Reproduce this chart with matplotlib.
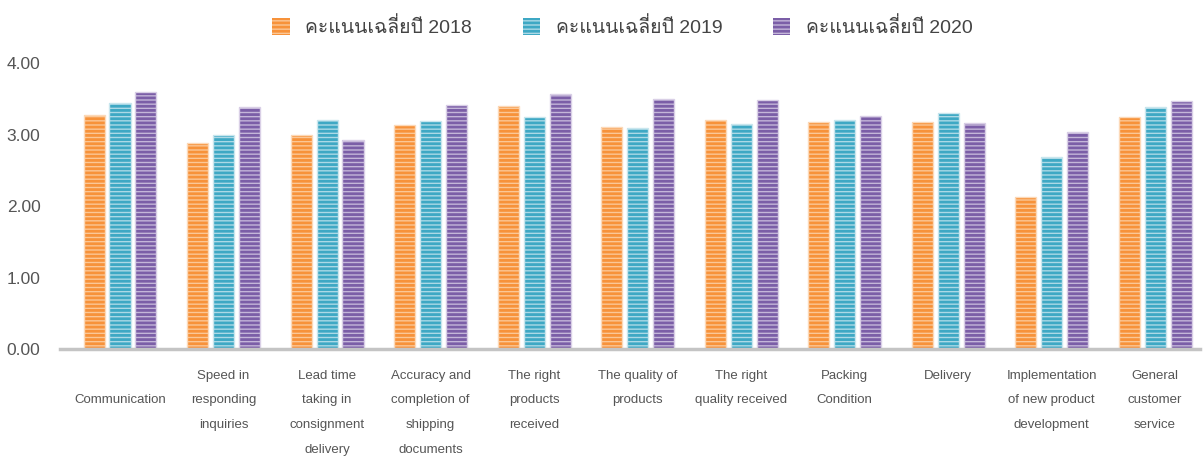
import numpy as np
import matplotlib
matplotlib.use("Agg")
import matplotlib.pyplot as plt
from matplotlib import font_manager
from matplotlib.ft2font import FT2Font

# dati
categories = [
    "\nCommunication",
    "Speed in\nresponding\ninquiries",
    "Lead time\ntaking in\nconsignment\ndelivery",
    "Accuracy and\ncompletion of\nshipping\ndocuments",
    "The right\nproducts\nreceived",
    "The quality of\nproducts",
    "The right\nquality received",
    "Packing\nCondition",
    "Delivery",
    "Implementation\nof new product\ndevelopment",
    "General\ncustomer\nservice",
]
series_names = ["คะแนนเฉลี่ยปี 2018", "คะแนนเฉลี่ยปี 2019", "คะแนนเฉลี่ยปี 2020"]
score_2018 = [3.28, 2.88, 2.99, 3.13, 3.40, 3.10, 3.20, 3.17, 3.17, 2.13, 3.25]
score_2019 = [3.44, 2.99, 3.20, 3.19, 3.25, 3.09, 3.15, 3.20, 3.30, 2.68, 3.38]
score_2020 = [3.59, 3.38, 2.93, 3.41, 3.57, 3.50, 3.48, 3.26, 3.16, 3.04, 3.47]
y_ticks = [0, 1, 2, 3, 4]


# cerca un font con i glifi thai
def find_thai_font():
    for f in font_manager.fontManager.ttflist:
        try:
            cmap = FT2Font(f.fname).get_charmap()
        except Exception:
            continue
        if 0x0E04 in cmap and 0x0E35 in cmap:
            return f.name
    return None


thai = find_thai_font()
families = ["Liberation Sans"] + ([thai] if thai else []) + ["DejaVu Sans"]
plt.rcParams["font.family"] = families
plt.rcParams["hatch.linewidth"] = 2.0

fig = plt.figure(figsize=(12.04, 4.57), dpi=100)
ax = fig.add_axes([0.0498, 0.2363, 0.9469, 0.6257])

x = np.arange(len(categories))
w = 0.203
off = 0.251
faces = ["#fbc796", "#acd9e6", "#c4b6d9"]
hatches = ["#f7923a", "#3ea8c4", "#7b5ea7"]
edges = ["#fcd9b8", "#c9e6ee", "#d9cfe6"]
data = [score_2018, score_2019, score_2020]

for i in range(3):
    ax.bar(x + (i - 1) * off, data[i], width=w, color=faces[i],
           edgecolor=hatches[i], hatch="----", linewidth=0,
           label=series_names[i])
    # bordo chiaro
    ax.bar(x + (i - 1) * off, data[i], width=w, fill=False,
           edgecolor=edges[i], linewidth=1.0)

ax.set_xlim(-0.58, 10.434)
ax.set_ylim(0, 4)
ax.set_yticks(y_ticks)
ax.set_yticklabels(["%.2f" % v for v in y_ticks], fontsize=12.5, color="#555555")
ax.set_xticks(x)
ax.set_xticklabels(categories, fontsize=9.5, color="#555555", linespacing=2.4,
                   va="top")
ax.tick_params(axis="y", length=0, pad=14)
ax.tick_params(axis="x", length=0, pad=15)

for s in ["top", "right", "left"]:
    ax.spines[s].set_visible(False)
ax.spines["bottom"].set_color("#c4c4c4")
ax.spines["bottom"].set_linewidth(2.5)

handles, labels = ax.get_legend_handles_labels()
handles = handles[:3]
fig.legend(handles, series_names, loc="upper center", bbox_to_anchor=(0.517, 1.0),
           ncol=3, frameon=False, fontsize=14, handlelength=0.9, handleheight=1.0,
           columnspacing=2.6, handletextpad=0.8, labelcolor="#444444")

fig.savefig("out.png", dpi=100)
